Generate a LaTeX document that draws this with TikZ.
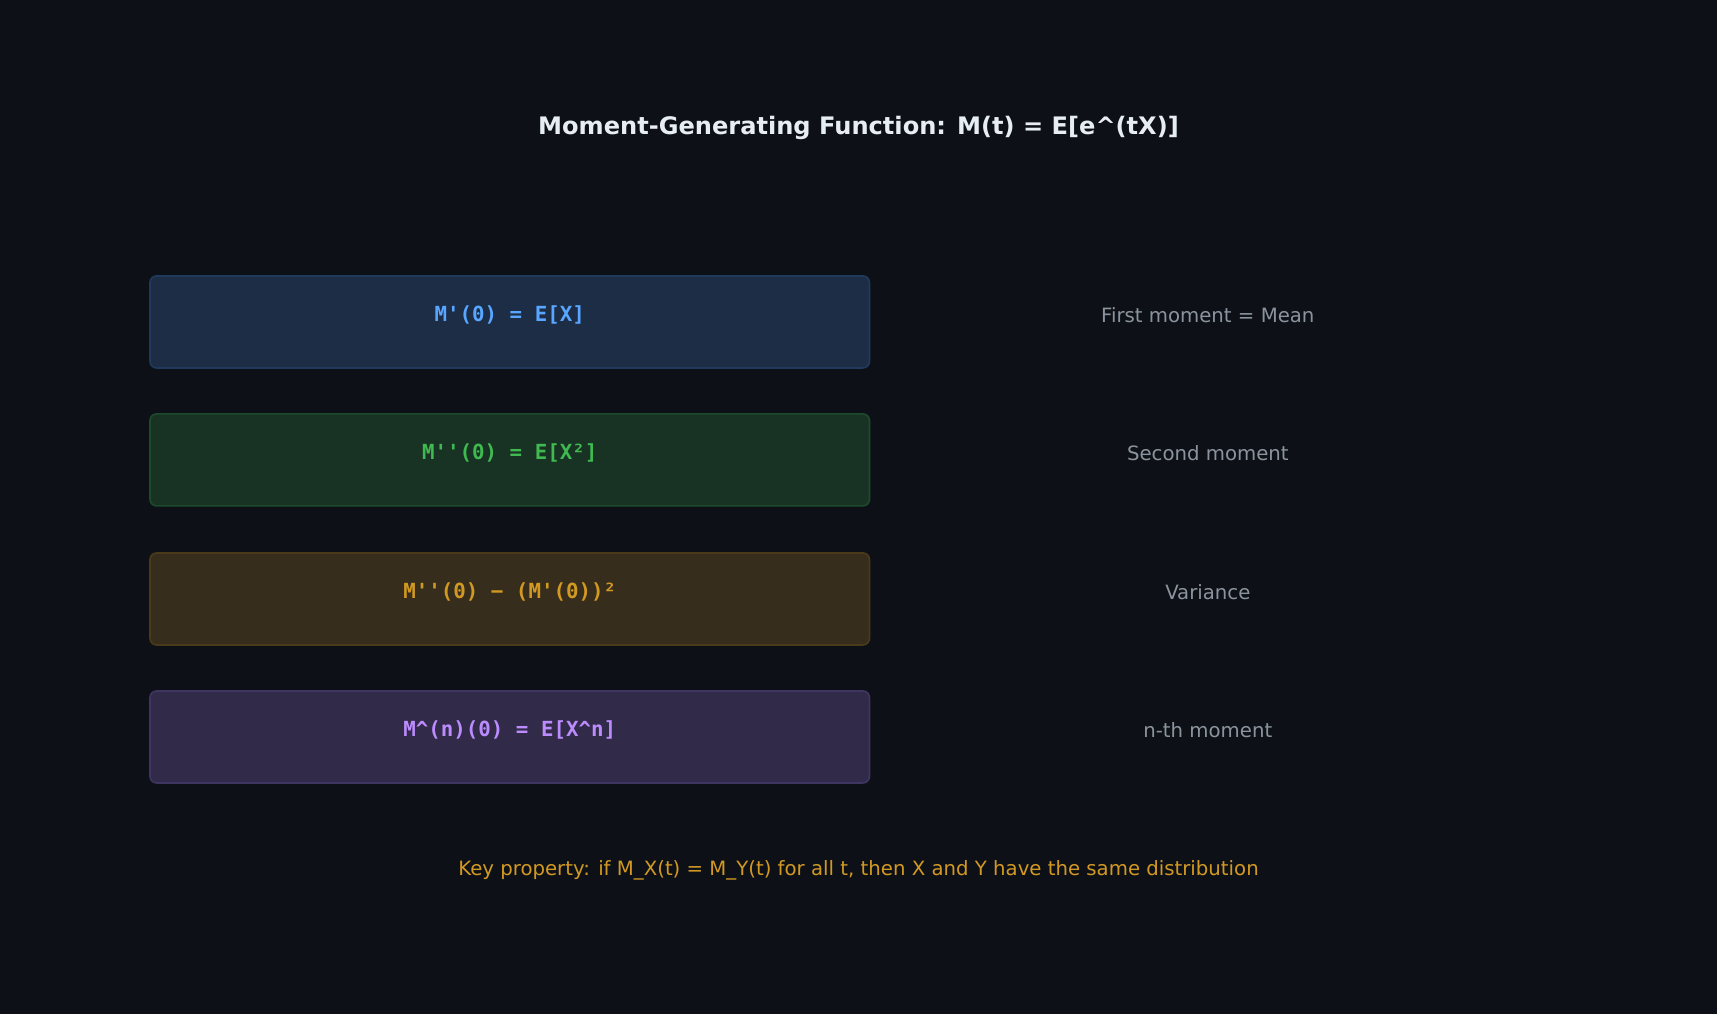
\documentclass[tikz,border=0pt]{standalone}
\usepackage{fontspec}
\setmainfont{DejaVu Sans}
\setmonofont{DejaVu Sans Mono}
\definecolor{bg}{HTML}{0D1117}
\definecolor{gr}{HTML}{8B949E}
\definecolor{ti}{HTML}{E6EDF3}
\definecolor{fa}{HTML}{1C2D45}\definecolor{da}{HTML}{1F3A5C}\definecolor{ta}{HTML}{58A6FF}
\definecolor{fb}{HTML}{183324}\definecolor{db}{HTML}{1D4A2B}\definecolor{tb}{HTML}{3FB950}
\definecolor{fc}{HTML}{372D1C}\definecolor{dc}{HTML}{4A3A1A}\definecolor{tc}{HTML}{D29922}
\definecolor{fd}{HTML}{312A48}\definecolor{dd}{HTML}{3E3560}\definecolor{td}{HTML}{BC8CFF}
\begin{document}
\begin{tikzpicture}[x=1pt,y=-1pt,
 box/.style={rounded corners=6pt,line width=1.5pt},
 formula/.style={font=\ttfamily\bfseries\fontsize{19}{22}\selectfont},
 desc/.style={text=gr,font=\fontsize{18}{21}\selectfont}]
\fill[bg] (0,0) rectangle (1568,926);
\useasboundingbox (0,0) rectangle (1568,926);
\node[text=ti,font=\bfseries\fontsize{22}{26}\selectfont] (title) at (784,117) {Moment-Generating Function: M(t) = E[e\^{}(tX)]};
\foreach \n/\y/\f/\d/\t/\form/\lab in {
 a/294/fa/da/ta/{M'(0) = E[X]}/{First moment = Mean},
 b/420/fb/db/tb/{M''(0) = E[X²]}/{Second moment},
 c/547/fc/dc/tc/{M''(0) − (M'(0))²}/{Variance},
 d/673/fd/dd/td/{M\^{}(n)(0) = E[X\^{}n]}/{n-th moment}} {
 \draw[box,fill=\f,draw=\d] (137,\y-42) rectangle (794,\y+42);
 \node[formula,text=\t] (f\n) at (465.5,\y-6) {\form};
 \node[desc] (l\n) at (1103,\y-6) {\lab};
}
\node[text=tc,font=\fontsize{18}{21}\selectfont] (key) at (784,795) {Key property: if M\_X(t) = M\_Y(t) for all t, then X and Y have the same distribution};
\end{tikzpicture}
\end{document}
